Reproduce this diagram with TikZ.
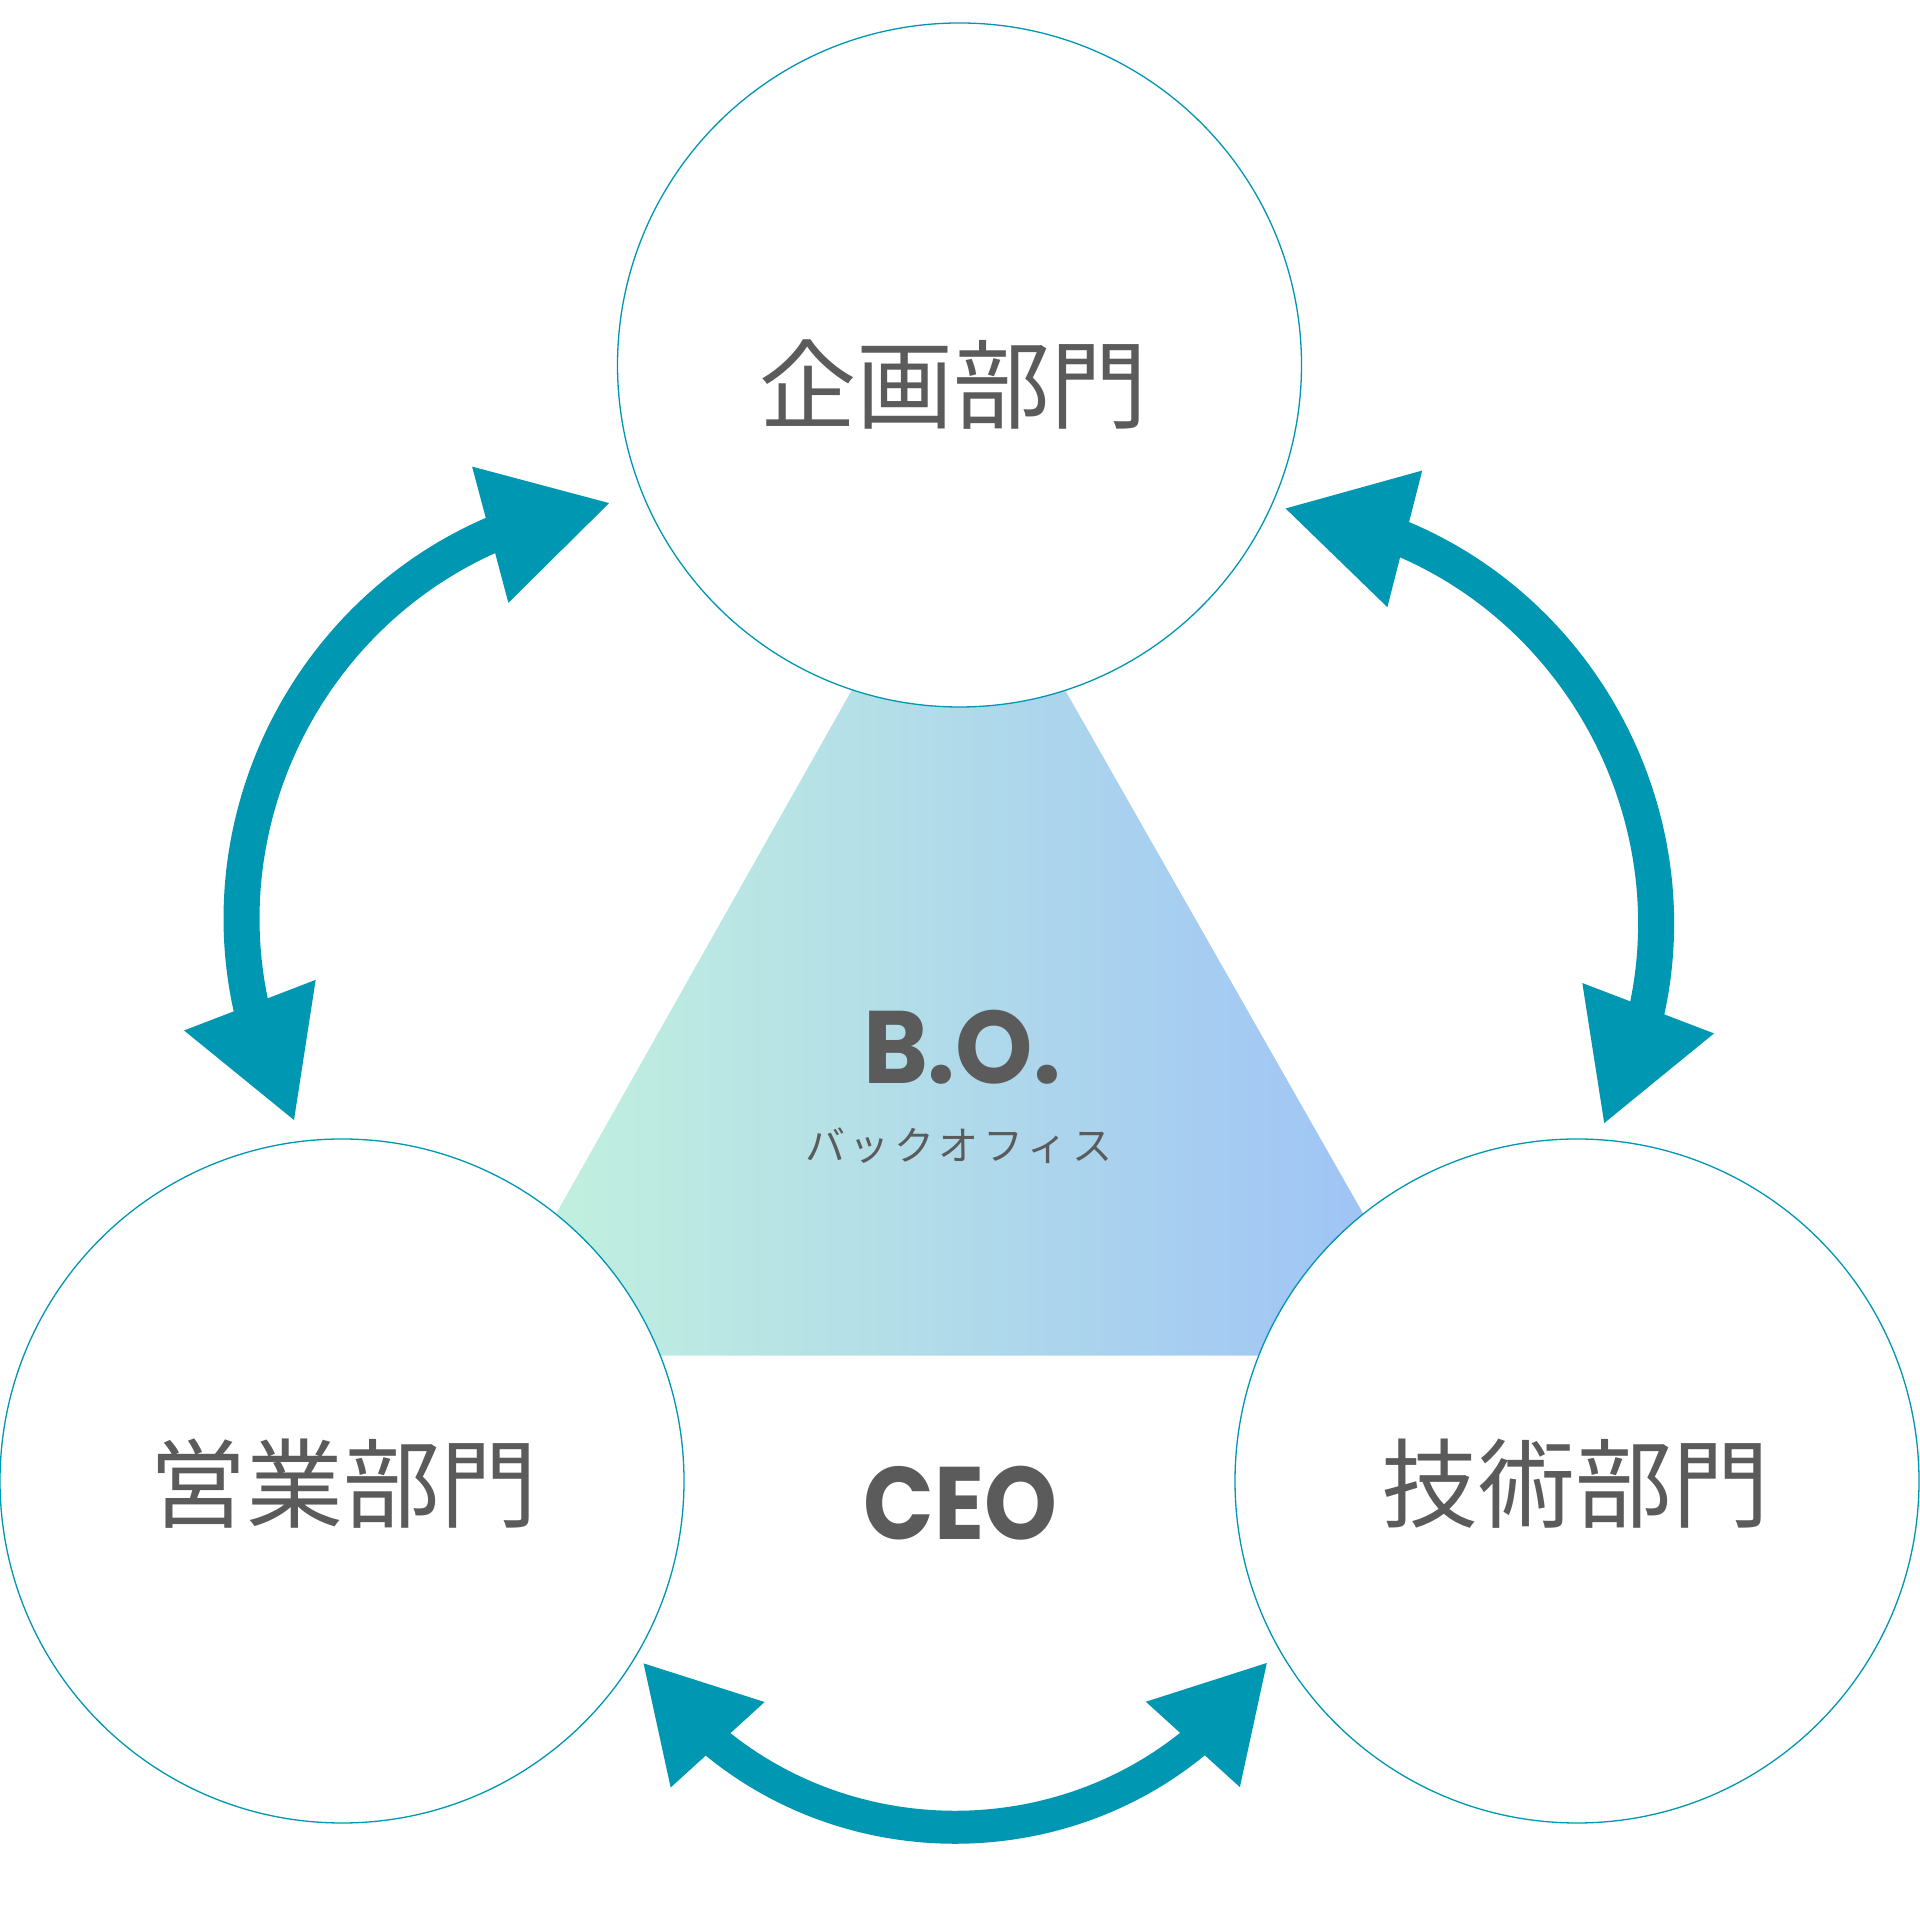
\documentclass[tikz,border=0pt]{standalone}
\usepackage{fontspec}
\newfontfamily\cjk{Noto Sans CJK JP}
\newfontfamily\popA{Poppins}[FakeStretch=0.956]
\newfontfamily\popB{Poppins}[FakeStretch=0.90]
\usetikzlibrary{arrows.meta,bending}
\definecolor{teal0}{HTML}{0097B2}
\definecolor{txt}{HTML}{5B5B5B}
\definecolor{gL}{HTML}{C4F4DC}
\definecolor{gR}{HTML}{9CC0F8}
\begin{document}
\begin{tikzpicture}[x=1pt,y=1pt,
  dept/.style={circle, draw=teal0, line width=1.3pt, fill=white, minimum size=684pt, inner sep=0pt},
  deptlabel/.style={text=txt, inner sep=0pt, font=\cjk\fontsize{97}{110}\selectfont},
  latin/.style={text=txt, inner sep=0pt, anchor=base},
  biarrow/.style={draw=teal0, line width=36pt,
    {Triangle[length=123pt,width=141pt,line width=0pt]}-{Triangle[length=123pt,width=141pt,line width=0pt]}},
  biarrowsmall/.style={draw=teal0, line width=33pt,
    {Triangle[length=110pt,width=127pt,line width=0pt]}-{Triangle[length=110pt,width=127pt,line width=0pt]}}]
\fill[white] (0,0) rectangle (1920,1920);
\useasboundingbox (0,0) rectangle (1920,1920);
% back office triangle
\shade[left color=gL, right color=gR] (958,1418) -- (476,564.3) -- (1444,564.3) -- cycle;
% departments
\node[dept] (plan) at (959.5,1555) {};
\node[dept] (sales) at (342,439) {};
\node[dept] (tech) at (1577,439) {};
\node[deptlabel] (planT) at (953,1535) {企画部門};
\node[deptlabel] (salesT) at (343,436) {営業部門};
\node[deptlabel] (techT) at (1575,436) {技術部門};
% centre labels
\node[latin, font=\popA\bfseries\fontsize{103}{110}\selectfont] (bo) at (962,836.7) {B.O.};
\node[text=txt, inner sep=0pt, font=\cjk\fontsize{40}{44}\selectfont] (kana) at (958.5,774)
  {バ\kern4.5ptッ\kern4.5ptク\kern4.5ptオ\kern4.5ptフ\kern4.5ptィ\kern4.5ptス};
\node[latin, font=\popB\bfseries\fontsize{103}{110}\selectfont] (ceo) at (960.6,380) {CEO};
% arrow ends
\coordinate (LT) at (609.1,1416.9);
\coordinate (LB) at (294,800);
\coordinate (RT) at (1285.6,1411.5);
\coordinate (RB) at (1604.2,796.9);
\coordinate (BL) at (643.6,256.6);
\coordinate (BR) at (1266.8,257);
\draw[biarrow] (LT) to[out=187,in=118.9,looseness=1.092] (LB);
\draw[biarrow] (RT) to[out=-6.3,in=61.1,looseness=1.0955] (RB);
\draw[biarrowsmall] (BL) to[out=304.3,in=235.8,looseness=1.089] (BR);
\end{tikzpicture}
\end{document}
